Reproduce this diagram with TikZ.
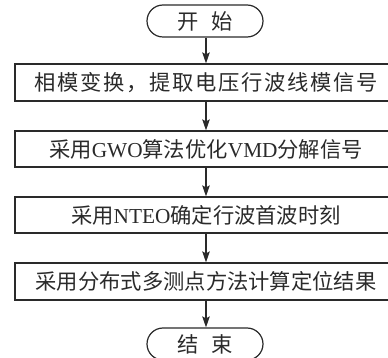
\documentclass[tikz,border=0pt]{standalone}
\usepackage{fontspec}
\setmainfont{Liberation Serif}
\newfontfamily\cjk{Noto Sans CJK SC}
\usetikzlibrary{arrows.meta}
\definecolor{ink}{HTML}{2A2A2A}
\tikzset{
  procbox/.style={draw=ink, line width=1.2pt, minimum width=382pt, minimum height=36pt, inner sep=0pt, text=ink, font=\fontsize{21.3pt}{24pt}\selectfont},
  termbox/.style={draw=ink, line width=1.2pt, rounded corners=16pt, minimum width=116pt, minimum height=32pt, inner sep=0pt, text=ink, font=\fontsize{21.3pt}{24pt}\selectfont},
  flow/.style={draw=ink, line width=1.2pt, -{Stealth[length=11pt,width=7.5pt,inset=2pt]}}
}
\begin{document}
\begin{tikzpicture}[x=1pt,y=-1pt]
\useasboundingbox (0,0) rectangle (388,358);
\node[termbox] (start) at (205,21) {\cjk 开\hspace{0.6em}始};
\node[procbox, minimum height=37pt] (b1) at (206,82.5) {\cjk\addfontfeature{LetterSpace=8}相模变换，提取电压行波线模信号};
\node[procbox] (b2) at (206,149) {\cjk 采用{\rmfamily GWO}算法优化{\rmfamily VMD}分解信号};
\node[procbox] (b3) at (206,215) {\cjk 采用{\rmfamily NTEO}确定行波首波时刻\hspace{28pt}};
\node[procbox, minimum height=37pt] (b4) at (206,281.5) {\cjk 采用分布式多测点方法计算定位结果\hspace{8pt}};
\node[termbox] (end) at (205,344) {\cjk 结\hspace{0.6em}束};
\draw[flow] (start.south -| b1.north) -- (b1.north);
\draw[flow] (b1) -- (b2);
\draw[flow] (b2) -- (b3);
\draw[flow] (b3) -- (b4);
\draw[flow] (b4.south) -- (end.north -| b4.south);
\end{tikzpicture}
\end{document}
